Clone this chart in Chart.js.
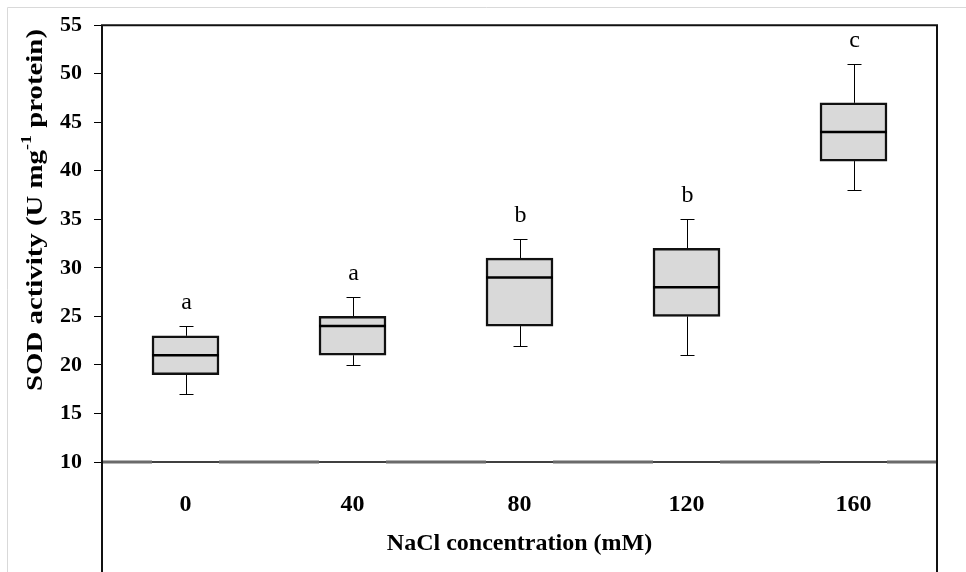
<!DOCTYPE html>
<html>
<head>
<meta charset="utf-8">
<script src="https://cdn.jsdelivr.net/npm/chart.js@4.4.1/dist/chart.umd.min.js"></script>
<style>
  html, body { margin: 0; padding: 0; background: #fff; }
  #wrap { position: relative; width: 966px; height: 572px; }
</style>
</head>
<body>
<div id="wrap"><canvas id="graph" width="966" height="572"></canvas></div>
<script>
// SOD activity per NaCl treatment, box plot summary values
const concentrations = ['0', '40', '80', '120', '160'];
const whiskerLow = [17, 20, 22, 21, 38];
const boxLow = [19, 21, 24, 25, 41];
const medians = [21, 24, 29, 28, 44];
const boxHigh = [23, 25, 31, 32, 47];
const whiskerHigh = [24, 27, 33, 35, 51];
const groupLetters = ['a', 'a', 'b', 'b', 'c'];

const serif = '"Liberation Serif", "Times New Roman", serif';

// whiskers, medians, letters, axis frame and titles
const boxExtras = {
  id: 'boxExtras',
  beforeDraw(chart) {
    const ctx = chart.ctx;
    ctx.save();
    ctx.strokeStyle = '#d9d9d9';
    ctx.lineWidth = 1;
    ctx.beginPath();
    ctx.moveTo(7.5, 572);
    ctx.lineTo(7.5, 7.5);
    ctx.lineTo(966, 7.5);
    ctx.stroke();
    ctx.restore();
  },
  beforeDatasetsDraw(chart) {
    const ctx = chart.ctx;
    const y = chart.scales.y;
    const bars = chart.getDatasetMeta(0).data;
    ctx.save();
    ctx.strokeStyle = '#000';
    ctx.lineWidth = 1;
    bars.forEach((bar, i) => {
      const x = Math.round(bar.x) + 0.5;
      const hi = Math.round(y.getPixelForValue(whiskerHigh[i])) + 0.5;
      const lo = Math.round(y.getPixelForValue(whiskerLow[i])) + 0.5;
      ctx.beginPath();
      ctx.moveTo(x, y.getPixelForValue(boxHigh[i]));
      ctx.lineTo(x, hi);
      ctx.moveTo(x - 7, hi);
      ctx.lineTo(x + 7, hi);
      ctx.moveTo(x, y.getPixelForValue(boxLow[i]));
      ctx.lineTo(x, lo);
      ctx.moveTo(x - 7, lo);
      ctx.lineTo(x + 7, lo);
      ctx.stroke();
    });
    ctx.restore();
  },
  afterDatasetsDraw(chart) {
    const ctx = chart.ctx;
    const y = chart.scales.y;
    const area = chart.chartArea;
    const bars = chart.getDatasetMeta(0).data;
    ctx.save();

    // medians
    ctx.strokeStyle = '#000';
    ctx.lineWidth = 2.5;
    bars.forEach((bar, i) => {
      const m = y.getPixelForValue(medians[i]);
      ctx.beginPath();
      ctx.moveTo(bar.x - bar.width / 2, m);
      ctx.lineTo(bar.x + bar.width / 2, m);
      ctx.stroke();
    });

    // group letters
    ctx.fillStyle = '#000';
    ctx.font = '24px ' + serif;
    ctx.textAlign = 'center';
    ctx.textBaseline = 'alphabetic';
    bars.forEach((bar, i) => {
      ctx.fillText(groupLetters[i], bar.x + 1, y.getPixelForValue(whiskerHigh[i]) - 17);
    });

    // baseline at 10, grey between the boxes
    const base = y.getPixelForValue(10);
    ctx.strokeStyle = '#000';
    ctx.lineWidth = 1.5;
    ctx.beginPath();
    ctx.moveTo(area.left, base);
    ctx.lineTo(area.right, base);
    ctx.stroke();
    ctx.strokeStyle = '#6a6a6a';
    ctx.lineWidth = 3;
    let start = area.left;
    bars.forEach((bar) => {
      ctx.beginPath();
      ctx.moveTo(start, base);
      ctx.lineTo(bar.x - bar.width / 2, base);
      ctx.stroke();
      start = bar.x + bar.width / 2;
    });
    ctx.beginPath();
    ctx.moveTo(start, base);
    ctx.lineTo(area.right, base);
    ctx.stroke();

    // frame
    ctx.strokeStyle = '#111';
    ctx.lineWidth = 2;
    ctx.beginPath();
    ctx.moveTo(area.left, chart.height);
    ctx.lineTo(area.left, area.top);
    ctx.lineTo(area.right, area.top);
    ctx.lineTo(area.right, chart.height);
    ctx.stroke();

    // x title
    ctx.font = 'bold 24px ' + serif;
    ctx.textBaseline = 'middle';
    ctx.fillText('NaCl concentration (mM)', (area.left + area.right) / 2, 544);

    // y title with superscript, stretched along its length
    ctx.translate(36, 210);
    ctx.rotate(-Math.PI / 2);
    const bigFont = 'bold 24px ' + serif;
    const supFont = 'bold 15px ' + serif;
    const parts = [
      { t: 'SOD activity (U mg', f: bigFont, dy: 0 },
      { t: '-1', f: supFont, dy: -9 },
      { t: ' protein)', f: bigFont, dy: 0 }
    ];
    let total = 0;
    parts.forEach(p => { ctx.font = p.f; p.w = ctx.measureText(p.t).width; total += p.w; });
    ctx.scale(362 / total, 1);
    let px = -total / 2;
    ctx.textAlign = 'left';
    parts.forEach(p => {
      ctx.font = p.f;
      ctx.fillText(p.t, px, p.dy);
      px += p.w;
    });
    ctx.restore();
  }
};

const cfg = {
  type: 'bar',
  data: {
    labels: concentrations,
    datasets: [{
      data: concentrations.map((c, i) => [boxLow[i], boxHigh[i]]),
      backgroundColor: '#d9d9d9',
      borderColor: '#111',
      borderWidth: 2.5,
      borderSkipped: false,
      barThickness: 67
    }]
  },
  options: {
    responsive: false,
    animation: false,
    layout: { padding: { left: 0, top: 14, right: 29, bottom: 0 } },
    plugins: {
      legend: { display: false },
      tooltip: { enabled: false }
    },
    scales: {
      x: {
        grid: { display: false },
        border: { display: false },
        ticks: {
          color: '#000',
          padding: 20,
          font: { family: serif, size: 24, weight: 'bold' }
        },
        afterFit(scale) { scale.height = 110; }
      },
      y: {
        min: 10,
        max: 55,
        ticks: {
          stepSize: 5,
          color: '#000',
          padding: 12,
          font: { family: serif, size: 22, weight: 'bold' }
        },
        grid: {
          drawOnChartArea: false,
          tickLength: 8,
          tickColor: '#000'
        },
        border: { display: false },
        afterFit(scale) { scale.width = 102; }
      }
    }
  },
  plugins: [boxExtras]
};

new Chart(document.querySelector('#graph'), cfg);
</script>
</body>
</html>
